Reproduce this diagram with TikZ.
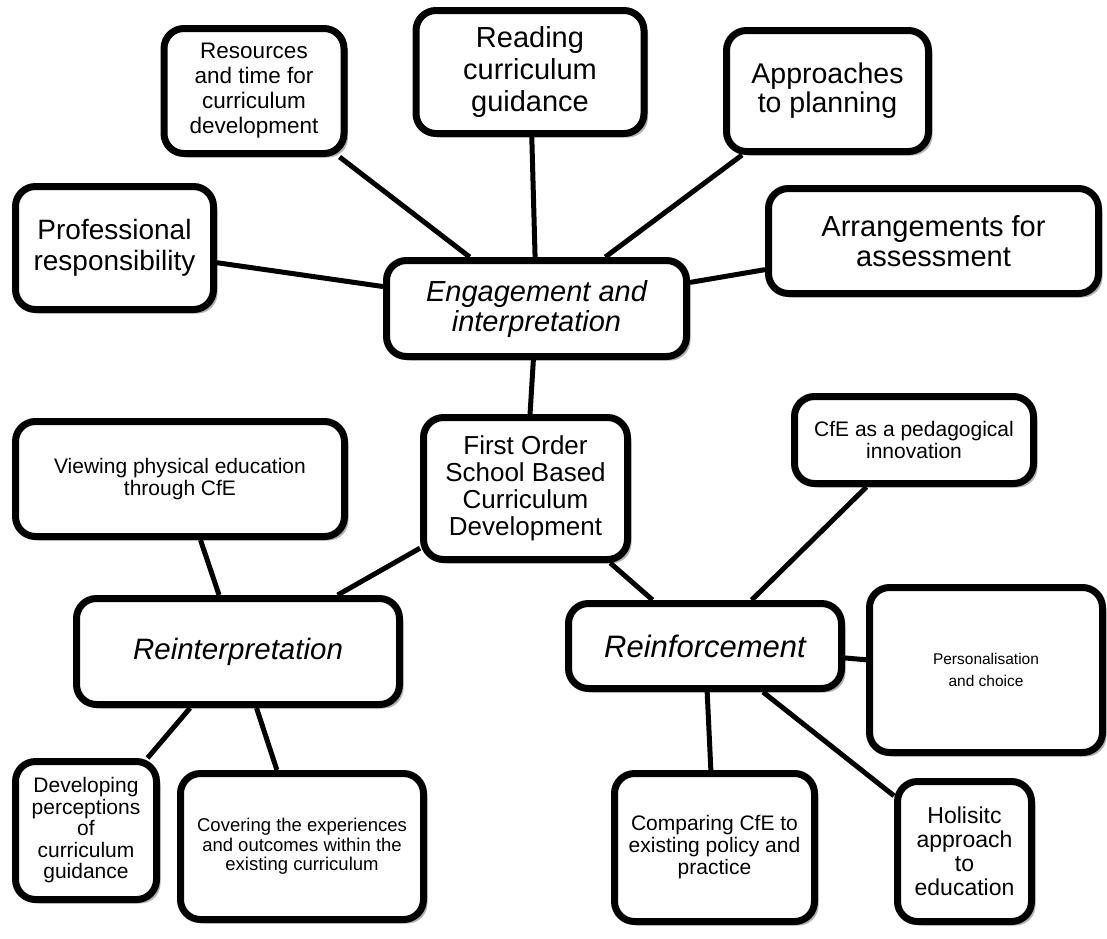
\documentclass[tikz,border=0pt]{standalone}
\usepackage{fontspec}
\setmainfont{Liberation Sans}
\usetikzlibrary{shadows,backgrounds}
\newcommand{\fsz}[2]{\fontsize{#1}{#2}\selectfont}

\begin{document}
\begin{tikzpicture}[x=1pt,y=-1pt,
  box/.style={draw=black, line width=7pt, rounded corners=20pt, fill=white,
    align=center, inner sep=0pt,
    drop shadow={shadow xshift=4pt, shadow yshift=-4pt, opacity=0.3, fill=black}},
  link/.style={line width=5pt, draw=black}]
\useasboundingbox (0,0) rectangle (1107,938);

% central hub and its satellites
\node[box, minimum width=300pt, minimum height=96pt, font=\fsz{29}{30}\itshape] (eng) at (536.5,308.5) {Engagement and\\interpretation};
\node[box, minimum width=180pt, minimum height=125pt, font=\fsz{22.5}{25}] (res) at (254,91) {Resources\\and time for\\curriculum\\development};
\node[box, minimum width=228pt, minimum height=123pt, font=\fsz{29}{32}] (read) at (530,72) {Reading\\curriculum\\guidance};
\node[box, minimum width=202pt, minimum height=121pt, font=\fsz{28.5}{29}] (appr) at (827.5,91) {Approaches\\to planning};
\node[box, minimum width=198pt, minimum height=123pt, font=\fsz{28}{31}] (prof) at (114.5,248) {Professional\\responsibility};
\node[box, minimum width=330pt, minimum height=105pt, font=\fsz{29}{30}] (arr) at (933.5,241) {Arrangements for\\assessment};

% first order development
\node[box, minimum width=204pt, minimum height=142pt, font=\fsz{26}{27}] (first) at (525.5,488.5) {First Order\\School Based\\Curriculum\\Development};

% reinterpretation branch
\node[box, minimum width=323pt, minimum height=106pt, font=\fsz{29.5}{32}\itshape] (reint) at (238,651.5) {Reinterpretation};
\node[box, minimum width=329pt, minimum height=115pt, font=\fsz{21}{22}] (view) at (180,479) {Viewing physical education\\through CfE};
\node[box, minimum width=141pt, minimum height=138pt, font=\fsz{21}{21.5}] (dev) at (86,830.5) {Developing\\perceptions\\of\\curriculum\\guidance};
\node[box, minimum width=243pt, minimum height=146pt, font=\fsz{18.5}{19.5}] (cov) at (302,846.5) {Covering the experiences\\and outcomes within the\\existing curriculum};

% reinforcement branch
\node[box, minimum width=273pt, minimum height=85pt, font=\fsz{31}{33}\itshape] (reinf) at (705,646) {Reinforcement};
\node[box, minimum width=239pt, minimum height=87pt, font=\fsz{21}{21.5}] (cfe) at (914,440) {CfE as a pedagogical\\innovation};
\node[box, minimum width=233pt, minimum height=165pt, font=\fsz{15.5}{22.5}] (pers) at (986,670) {Personalisation\\and choice};
\node[box, minimum width=200pt, minimum height=148pt, font=\fsz{21}{22}] (comp) at (714.5,847.5) {Comparing CfE to\\existing policy and\\practice};
\node[box, minimum width=134pt, minimum height=140pt, font=\fsz{23}{24}] (hol) at (964.5,851.5) {Holisitc\\approach\\to\\education};

% connectors behind the boxes
\begin{scope}[on background layer]
\draw[link] (res) -- (eng);
\draw[link] (read) -- (eng);
\draw[link] (appr) -- (eng);
\draw[link] (prof) -- (eng);
\draw[link] (arr) -- (eng);
\draw[link] (eng) -- (first);
\draw[link] (first) -- (reint);
\draw[link] (first) -- (reinf);
\draw[link] (view) -- (reint);
\draw[link] (reint) -- (dev);
\draw[link] (reint) -- (cov);
\draw[link] (cfe) -- (reinf);
\draw[link] (reinf) -- (pers);
\draw[link] (reinf) -- (comp);
\draw[link] (reinf) -- (hol);
\end{scope}
\end{tikzpicture}
\end{document}
